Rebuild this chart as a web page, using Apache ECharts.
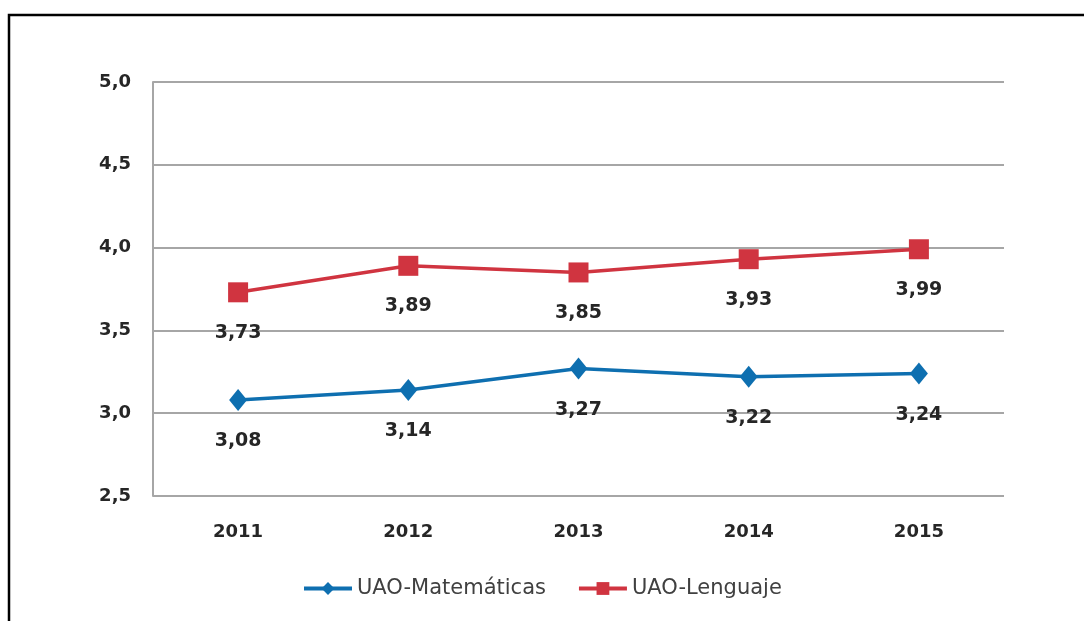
<!DOCTYPE html>
<html>
<head>
<meta charset="utf-8">
<script src="https://cdn.jsdelivr.net/npm/echarts@6/dist/echarts.min.js"></script>
<style>
  html, body { margin: 0; padding: 0; background: #fff; }
  #chart { width: 1084px; height: 621px; }
</style>
</head>
<body>
<div id="chart"></div>
<script>
    // datos
    var years = ['2011', '2012', '2013', '2014', '2015'];
    var matematicas = [3.08, 3.14, 3.27, 3.22, 3.24];
    var lenguaje = [3.73, 3.89, 3.85, 3.93, 3.99];
    var seriesNames = ['UAO-Matemáticas', 'UAO-Lenguaje'];

    var font = 'DejaVu Sans';
    var dom = document.getElementById('chart');
    var myChart = echarts.init(dom);

    function coma(v, d) {
        return Number(v).toFixed(d).replace('.', ',');
    }

    var dataLabel = {
        show: true,
        position: 'bottom',
        distance: 21,
        color: '#262626',
        fontFamily: font,
        fontWeight: 'bold',
        fontSize: 19,
        formatter: function (p) { return coma(p.value, 2); }
    };

    var option = {
        animation: false,
        backgroundColor: '#fff',
        // marco negro (solo arriba e izquierda se ven)
        graphic: [{
            type: 'polyline',
            shape: { points: [[9, 700], [9, 15], [1200, 15]] },
            style: { fill: 'none', stroke: '#000', lineWidth: 2.5 }
        }],
        grid: { left: 153, right: 80, top: 82, bottom: 125 },
        legend: {
            left: 297,
            bottom: 17,
            itemWidth: 48,
            itemHeight: 16,
            itemGap: 31,
            lineStyle: { width: 4 },
            textStyle: { fontFamily: font, fontSize: 21, color: '#404040' },
            data: seriesNames
        },
        xAxis: {
            type: 'category',
            data: years,
            boundaryGap: true,
            axisLine: { show: false },
            axisTick: { show: false },
            axisLabel: { margin: 27, color: '#262626', fontFamily: font, fontWeight: 'bold', fontSize: 18 }
        },
        yAxis: {
            type: 'value',
            min: 2.5,
            max: 5,
            interval: 0.5,
            axisLine: { show: true, lineStyle: { color: '#a6a6a6', width: 2 } },
            axisTick: { show: false },
            splitLine: { lineStyle: { color: '#a6a6a6', width: 2 } },
            axisLabel: {
                margin: 22, color: '#262626', fontFamily: font, fontWeight: 'bold', fontSize: 18,
                formatter: function (v) { return coma(v, 1); }
            }
        },
        series: [
            {
                name: seriesNames[0],
                type: 'line',
                data: matematicas,
                symbol: 'diamond',
                symbolSize: [18, 22],
                itemStyle: { color: '#0e6fb0' },
                lineStyle: { color: '#0e6fb0', width: 3.5 },
                label: dataLabel
            },
            {
                name: seriesNames[1],
                type: 'line',
                data: lenguaje,
                symbol: 'rect',
                symbolSize: 20,
                itemStyle: { color: '#d03440' },
                lineStyle: { color: '#d03440', width: 3.5 },
                label: dataLabel
            }
        ]
    };

    myChart.setOption(option, true);
</script>
</body>
</html>
